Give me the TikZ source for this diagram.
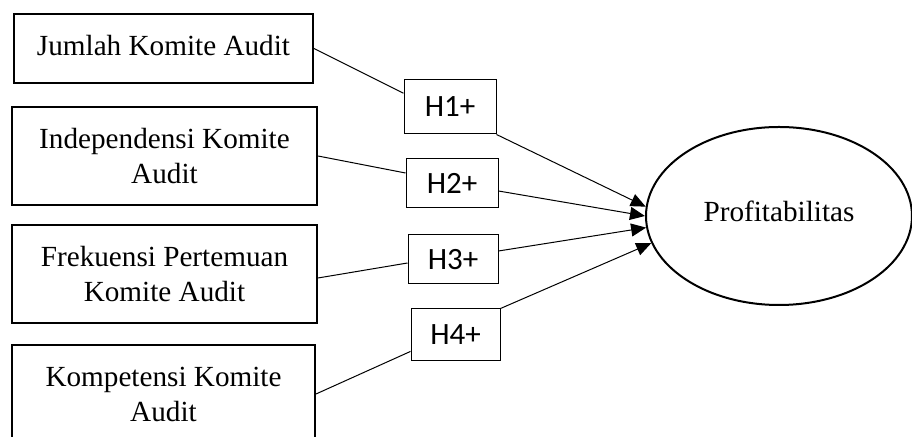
\documentclass[tikz,border=0pt]{standalone}
\usepackage{fontspec}
\setmainfont{Liberation Serif}
\newfontfamily\hypfont{Carlito}
\usetikzlibrary{arrows.meta,calc,shapes.geometric}

\tikzset{
  txt/.style={font=\fontsize{14.6}{17.5}\selectfont},
  var/.style={txt, draw, line width=1pt, minimum width=152.5pt, minimum height=49pt, inner sep=0pt, align=center},
  hyp/.style={draw, line width=0.5pt, minimum width=46pt, inner sep=0pt, font=\hypfont\fontsize{15.5}{18}\selectfont},
  link/.style={line width=0.5pt},
  arr/.style={link, -{Triangle[length=7.5pt,width=6.5pt]}}
}

\begin{document}
\begin{tikzpicture}[x=0.5pt, y=-0.5pt]
  \useasboundingbox (0,0) rectangle (912,437);
  \node [var, minimum width=149.5pt, minimum height=34.5pt] (J) at (163.5,48.5) {\raisebox{3pt}{Jumlah Komite Audit}};
  \node [var] (I) at (164.5,156) {Independensi Komite\\Audit};
  \node [var] (F) at (164.5,274) {Frekuensi Pertemuan\\Komite Audit};
  \node [var, minimum width=151.5pt] (K) at (163.5,394) {Kompetensi Komite\\Audit};
  \node [hyp, minimum height=27pt] (H1) at (450,107) {H1+};
  \node [hyp, minimum height=24.5pt] (H2) at (452,183.5) {H2+};
  \node [hyp, minimum width=45pt, minimum height=24.5pt] (H3) at (453,259.5) {H3+};
  \node [hyp, minimum width=44.5pt, minimum height=26pt] (H4) at (455.5,335) {H4+};
  \node [txt, draw, ellipse, line width=1pt, minimum width=133pt, minimum height=89pt, inner sep=0pt] (P) at (779,216) {\raisebox{4.5pt}{Profitabilitas}};
  \draw [link] (J.east) -- ($(H1.north west)!.25!(H1.south west)$);
  \draw [link] (I.east) -- ($(H2.north west)!.29!(H2.south west)$);
  \draw [link] ($(F.north east)!.54!(F.south east)$) -- ($(H3.north west)!.57!(H3.south west)$);
  \draw [link] (K.east) -- ($(H4.north west)!.81!(H4.south west)$);
  \draw [arr] (H1.south east) -- (P.176);
  \draw [arr] ($(H2.north east)!.65!(H2.south east)$) -- (P.180);
  \draw [arr] ($(H3.north east)!.33!(H3.south east)$) -- (P.185);
  \draw [arr] (H4.north east) -- (P.192);
\end{tikzpicture}
\end{document}
